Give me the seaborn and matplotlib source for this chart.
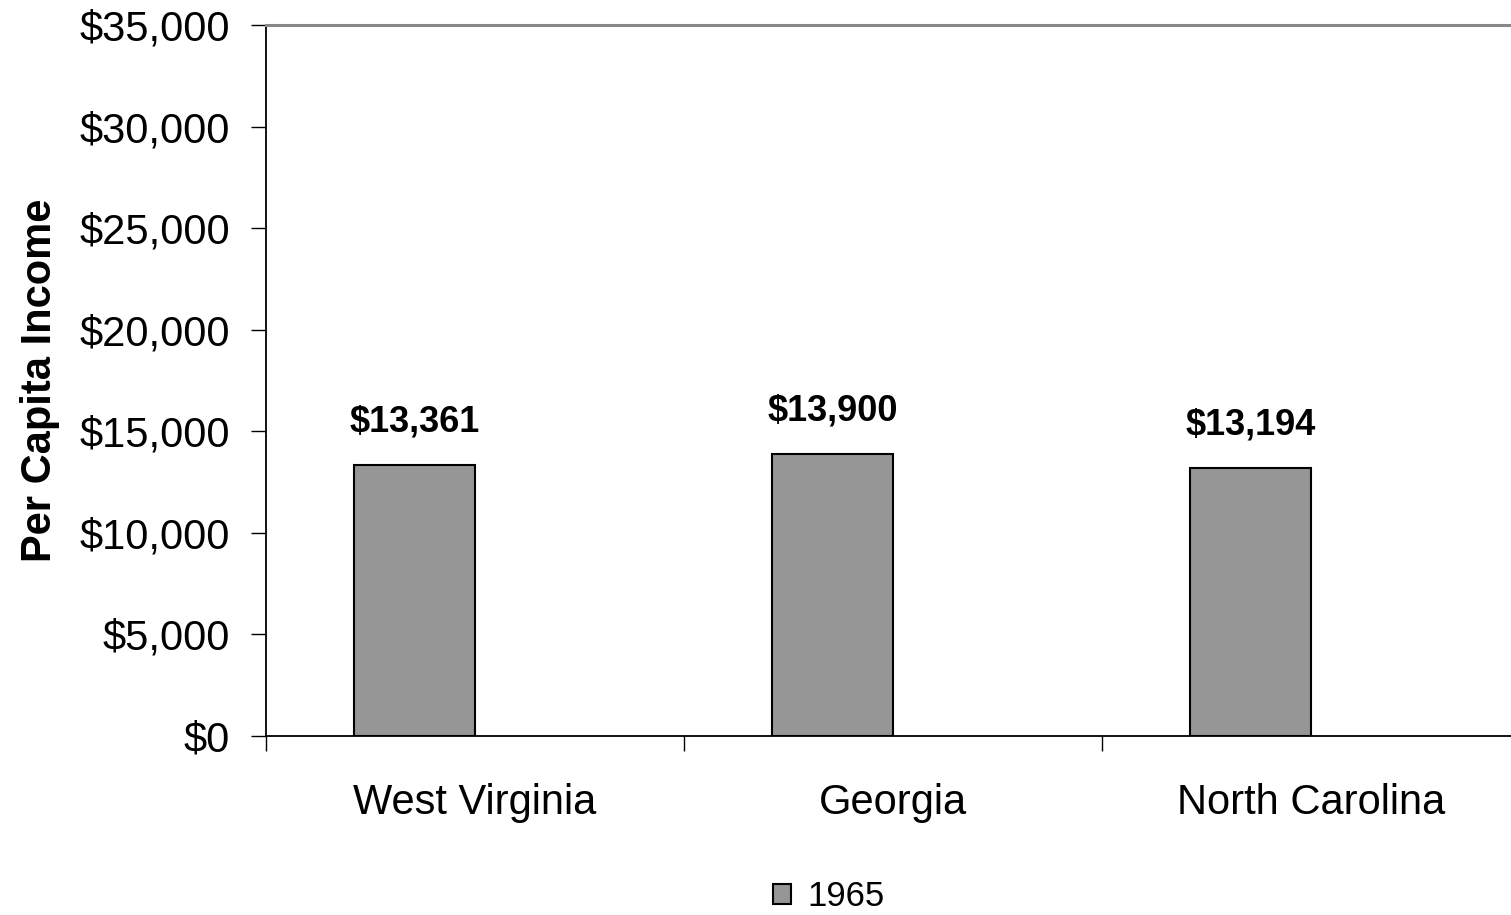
import matplotlib
matplotlib.use("Agg")
import matplotlib.pyplot as plt
from matplotlib.patches import Patch
from matplotlib.ticker import FuncFormatter, FixedLocator
import seaborn as sns
import pandas as pd

# Per capita income by state
states = ["West Virginia", "Georgia", "North Carolina"]
income_1965 = [13361, 13900, 13194]
years = ["1965", "2005"]          # second slot reserved in each group
value_labels = ["$13,361", "$13,900", "$13,194"]
y_ticks = [0, 5000, 10000, 15000, 20000, 25000, 30000, 35000]

df = pd.DataFrame({"state": states, "income": income_1965, "year": years[0]})

sns.set_theme(style="white")
plt.rcParams["font.family"] = ["Liberation Sans", "DejaVu Sans"]
plt.rcParams.update({"text.color": "black", "axes.labelcolor": "black",
                     "xtick.color": "black", "ytick.color": "black"})

fig = plt.figure(figsize=(15.11, 9.15), dpi=100)
ax = fig.add_axes([266 / 1511, 1 - 736 / 915, (1511 - 266) / 1511, (736 - 25) / 915])

sns.barplot(data=df, x="state", y="income", hue="year", hue_order=years,
            order=states, width=0.579, dodge=True, gap=0,
            palette=["#969696", "#969696"], edgecolor="black", linewidth=1.5,
            saturation=1, legend=False, ax=ax)

ax.set_ylim(0, 35000)
ax.set_xlim(-0.5, 2.478)
ax.yaxis.set_major_locator(FixedLocator(y_ticks))
ax.yaxis.set_major_formatter(FuncFormatter(lambda v, p: f"${v:,.0f}"))
ax.tick_params(axis="y", which="major", direction="out", length=11, width=1,
               color="black", labelcolor="black", labelsize=30, pad=15, left=True)

# category boundaries carry the x ticks; names sit at the centers
ax.xaxis.set_major_locator(FixedLocator([-0.5, 0.5, 1.5]))
ax.xaxis.set_major_formatter(FuncFormatter(lambda v, p: ""))
ax.xaxis.set_minor_locator(FixedLocator([0, 1, 2]))
ax.set_xticklabels(states, minor=True)
ax.tick_params(axis="x", which="major", direction="out", length=11, width=1,
               color="black", bottom=True)
ax.tick_params(axis="x", which="minor", length=0, labelsize=30, pad=34,
               labelcolor="black")

ax.set_xlabel("")
ax.set_ylabel("Per Capita Income", fontsize=30, fontweight="bold", labelpad=14,
              color="black")

for side in ["left", "bottom"]:
    ax.spines[side].set_color("black")
    ax.spines[side].set_linewidth(1.3)
ax.spines["top"].set_color("#888888")
ax.spines["top"].set_linewidth(2.2)
ax.spines["right"].set_visible(False)

# value labels above the 1965 bars
bars = [p for p in ax.patches if p.get_height() > 0]
for bar, val, txt in zip(bars, income_1965, value_labels):
    cx = bar.get_x() + bar.get_width() / 2
    ax.annotate(txt, (cx, val), xytext=(0, 18), textcoords="offset points",
                ha="center", va="bottom", fontsize=26, fontweight="bold",
                color="black")

handle = Patch(facecolor="#969696", edgecolor="black", linewidth=1.5)
fig.legend([handle], [years[0]], loc="center", bbox_to_anchor=(0.5485, 1 - 897 / 915),
           frameon=False, fontsize=25, handlelength=0.52, handleheight=0.52,
           handletextpad=0.45, labelcolor="black")

fig.savefig("out.png", dpi=100)
